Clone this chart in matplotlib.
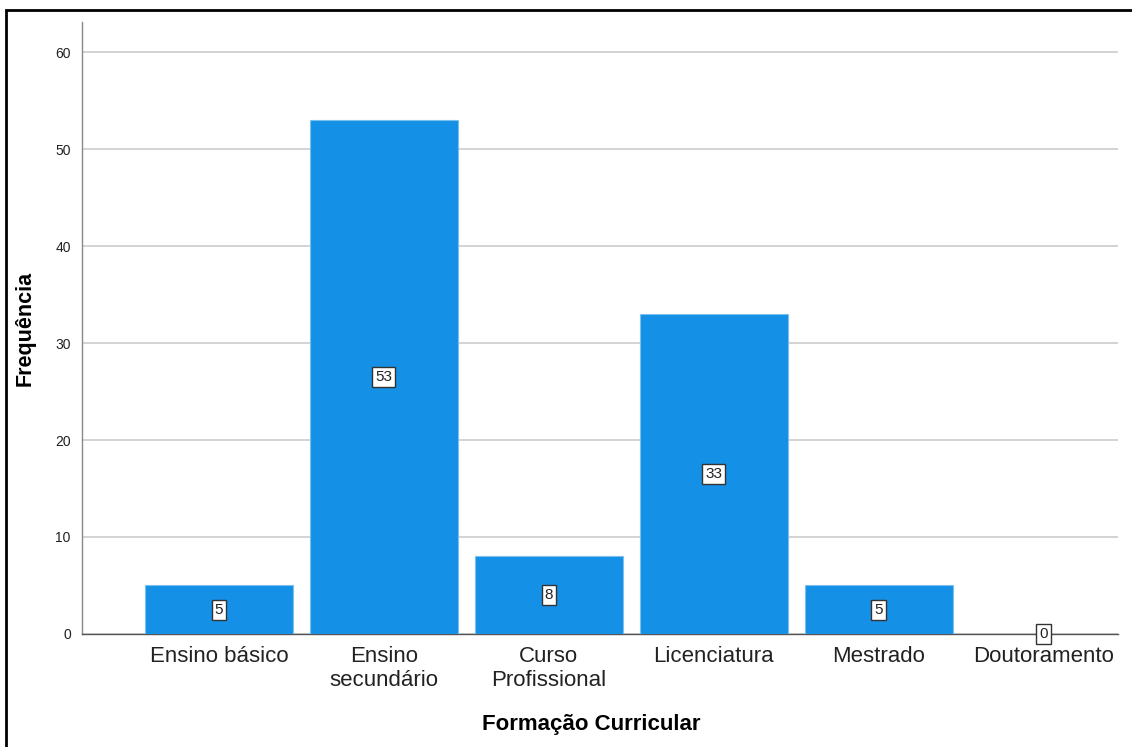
import matplotlib.pyplot as plt
from matplotlib.patches import Rectangle

plt.rcParams["font.family"] = ["Liberation Sans", "DejaVu Sans"]

# dados
categorias = ["Ensino básico", "Ensino\nsecundário", "Curso\nProfissional",
              "Licenciatura", "Mestrado", "Doutoramento"]
frequencias = [5, 53, 8, 33, 5, 0]
yticks = [0, 10, 20, 30, 40, 50, 60]

fig = plt.figure(figsize=(11.32, 7.47), dpi=100)
ax = fig.add_axes([0.0724, 0.1513, 0.9152, 0.8192])

x = list(range(len(categorias)))
ax.bar(x, frequencias, width=0.895, color="#1490e6",
       edgecolor="#7cc0f0", linewidth=0.8, zorder=3)

# rótulos de valor no meio das barras
for xi, v in zip(x, frequencias):
    ax.text(xi, v / 2, str(v), ha="center", va="center", fontsize=11,
            color="#222222", zorder=5,
            bbox=dict(boxstyle="square,pad=0.2", facecolor="white",
                      edgecolor="#333333", linewidth=1.0))

ax.set_xlim(-0.83, 5.45)
ax.set_ylim(0, 63.1)
ax.set_yticks(yticks)
ax.set_xticks(x)
ax.set_xticklabels(categorias, fontsize=16, color="#222222", linespacing=1.15)
ax.tick_params(axis="y", length=0, labelsize=10, pad=8, colors="#222222")
ax.tick_params(axis="x", length=0, pad=9)

ax.grid(axis="y", color="#cccccc", linewidth=1.2, zorder=0)
ax.set_axisbelow(True)
for s in ["top", "right"]:
    ax.spines[s].set_visible(False)
ax.spines["left"].set_color("#888888")
ax.spines["bottom"].set_color("#555555")
ax.spines["left"].set_linewidth(1.0)
ax.spines["bottom"].set_linewidth(1.0)

ax.set_xlabel("Formação Curricular", fontsize=16, fontweight="bold")
ax.xaxis.set_label_coords(0.492, -0.131)
ax.set_ylabel("Frequência", fontsize=15.5, fontweight="bold", labelpad=14)

# moldura preta à volta
fig.patches.append(Rectangle((6 / 1132, -0.02), 1.05, 0.02 + (747 - 10) / 747,
                             transform=fig.transFigure, fill=False,
                             edgecolor="black", linewidth=2, zorder=10))

fig.savefig("out.png", dpi=100)
